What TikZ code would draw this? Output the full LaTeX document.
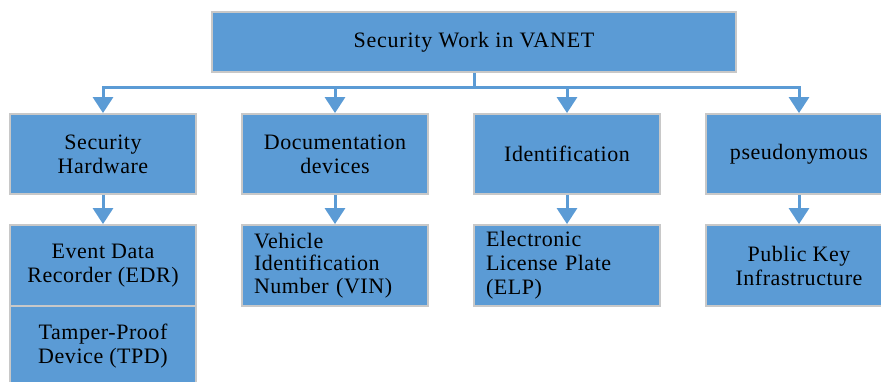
\documentclass[tikz,border=0pt]{standalone}
\usepackage{fontspec}
\setmainfont{Liberation Serif}[LetterSpace=2.5]
\usetikzlibrary{arrows.meta}
\definecolor{boxblue}{HTML}{5B9BD5}
\definecolor{boxrim}{HTML}{C8C8C8}
\begin{document}
\begin{tikzpicture}[x=1pt,y=-1pt,
  box/.style={draw=boxrim, line width=1.8pt, fill=boxblue, inner sep=0pt,
    minimum width=186pt, minimum height=80pt, align=center,
    font=\fontsize{22}{24}\selectfont},
  leftbox/.style={box, align=left, text width=162pt,
    font=\fontsize{22}{22.5}\selectfont},
  conn/.style={draw=boxblue, line width=3pt},
  arr/.style={conn, -{Triangle[width=20pt,length=16pt]}}]
\useasboundingbox (0,0) rectangle (881,382);

% root
\node[box, minimum width=524pt, minimum height=60pt] (root) at (474,42)
  {\addfontfeatures{LetterSpace=3.5}Security Work in VANET};

% first level
\node[box] (hw)  at (103,154) {Security\\Hardware};
\node[box] (doc) at (335,154) {Documentation\\devices};
\node[box] (id)  at (567,154) {Identification};
\node[box] (ps)  at (799,154) {pseudonymous};

% second level
\node[box, minimum height=81pt] (edr) at (103,265.5) {Event Data\\Recorder (EDR)};
\node[box, minimum height=81pt] (tpd) at (103,346.5) {Tamper-Proof\\Device (TPD)};
\node[leftbox, minimum height=81pt] (vin) at (335,265.5)
  {Vehicle\\Identification\\Number (VIN)};
\node[leftbox, minimum height=81pt, font=\fontsize{22}{24}\selectfont] (elp) at (567,265.5)
  {Electronic\\License Plate\\(ELP)};
\node[box, minimum height=81pt] (pki) at (799,265.5) {Public Key\\Infrastructure};

% connectors
\coordinate (bus) at (474,88);
\draw[conn] (root.south) -- (bus);
\draw[arr] (bus) -| (hw.north);
\draw[arr] (bus) -| (doc.north);
\draw[arr] (bus) -| (id.north);
\draw[arr] (bus) -| (ps.north);
\draw[arr] (hw.south) -- (edr.north);
\draw[arr] (doc.south) -- (vin.north);
\draw[arr] (id.south) -- (elp.north);
\draw[arr] (ps.south) -- (pki.north);
\end{tikzpicture}
\end{document}
